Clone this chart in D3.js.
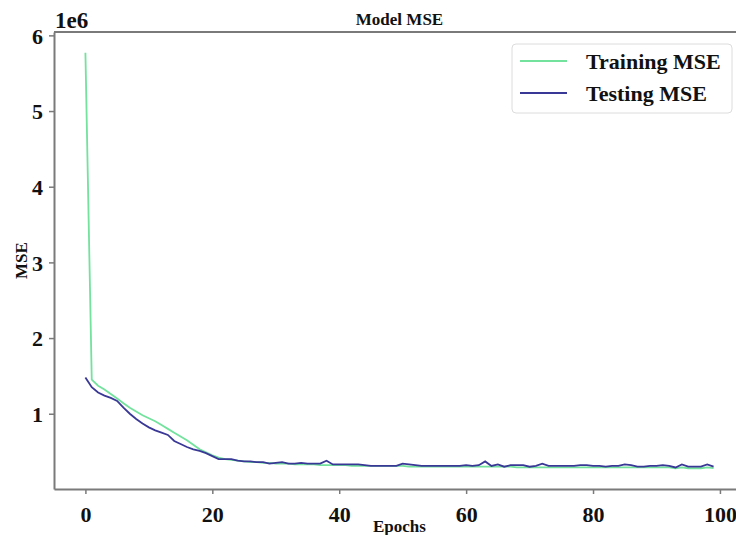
<!DOCTYPE html>
<html>
<head>
<meta charset="utf-8">
<script src="https://cdn.jsdelivr.net/npm/d3@7"></script>
<style>
  html, body { margin: 0; padding: 0; background: #fff; }
  svg { display: block; font-family: 'Liberation Serif', 'Times New Roman', serif; font-weight: bold; }
</style>
</head>
<body>
<svg id="chart" width="736" height="535"></svg>
<script>
// MSE per epoch, in units of 1e6
const epochs = d3.range(100)
const trainingMSE = [
  5.77, 1.45, 1.37, 1.32, 1.26, 1.20, 1.14, 1.08, 1.03, 0.98,
  0.94, 0.90, 0.85, 0.80, 0.75, 0.70, 0.65, 0.59, 0.53, 0.49,
  0.45, 0.42, 0.40, 0.39, 0.38, 0.37, 0.36, 0.36, 0.35, 0.35,
  0.34, 0.34, 0.34, 0.33, 0.33, 0.33, 0.33, 0.32, 0.32, 0.32,
  0.32, 0.32, 0.31, 0.31, 0.31, 0.31, 0.31, 0.31, 0.31, 0.31,
  0.31, 0.30, 0.30, 0.30, 0.30, 0.30, 0.30, 0.30, 0.30, 0.30,
  0.30, 0.30, 0.30, 0.30, 0.30, 0.30, 0.30, 0.30, 0.29, 0.29,
  0.29, 0.29, 0.29, 0.29, 0.29, 0.29, 0.29, 0.29, 0.29, 0.29,
  0.29, 0.29, 0.29, 0.29, 0.29, 0.29, 0.29, 0.29, 0.29, 0.29,
  0.29, 0.29, 0.29, 0.28, 0.29, 0.28, 0.28, 0.28, 0.29, 0.28
]
const testingMSE = [
  1.48, 1.35, 1.28, 1.24, 1.21, 1.17, 1.08, 1.00, 0.93, 0.87,
  0.82, 0.78, 0.75, 0.72, 0.64, 0.60, 0.56, 0.53, 0.51, 0.48,
  0.44, 0.40, 0.40, 0.40, 0.38, 0.37, 0.37, 0.36, 0.36, 0.34,
  0.35, 0.36, 0.34, 0.34, 0.35, 0.34, 0.34, 0.34, 0.38, 0.33,
  0.33, 0.33, 0.33, 0.33, 0.32, 0.31, 0.31, 0.31, 0.31, 0.31,
  0.34, 0.33, 0.32, 0.31, 0.31, 0.31, 0.31, 0.31, 0.31, 0.31,
  0.32, 0.31, 0.32, 0.37, 0.31, 0.33, 0.30, 0.32, 0.32, 0.32,
  0.30, 0.31, 0.34, 0.31, 0.31, 0.31, 0.31, 0.31, 0.32, 0.32,
  0.31, 0.31, 0.30, 0.31, 0.31, 0.33, 0.32, 0.30, 0.30, 0.31,
  0.31, 0.32, 0.31, 0.29, 0.33, 0.30, 0.30, 0.30, 0.33, 0.30
]
const xTicks = [0, 20, 40, 60, 80, 100]
const yTicks = [1, 2, 3, 4, 5, 6]
const seriesNames = ['Training MSE', 'Testing MSE']
const seriesColors = ['#72e29d', '#3a3896']

const svg = d3.select('#chart')
const plot = { left: 54, right: 745, top: 32, bottom: 489 }

// matplotlib style 5% margins
const xPad = 0.05 * (d3.max(epochs) - d3.min(epochs))
const allVals = trainingMSE.concat(testingMSE)
const yPad = 0.05 * (d3.max(allVals) - d3.min(allVals))

const x = d3.scaleLinear()
  .domain([d3.min(epochs) - xPad, d3.max(epochs) + xPad])
  .range([plot.left, plot.right])
const y = d3.scaleLinear()
  .domain([d3.min(allVals) - yPad, d3.max(allVals) + yPad])
  .range([plot.bottom, plot.top])

const line = d3.line()
  .x((d, i) => x(epochs[i]))
  .y(d => y(d))

const lines = svg.append('g')
lines.append('path')
  .datum(trainingMSE)
  .attr('d', line)
  .attr('fill', 'none')
  .attr('stroke', seriesColors[0])
  .attr('stroke-width', 1.8)
lines.append('path')
  .datum(testingMSE)
  .attr('d', line)
  .attr('fill', 'none')
  .attr('stroke', seriesColors[1])
  .attr('stroke-width', 1.8)

// axes
let xAxis = svg.append('g')
  .attr('transform', `translate(0,${plot.bottom})`)
  .call(d3.axisBottom(x).tickValues(xTicks).tickFormat(d3.format('d'))
    .tickSize(5).tickSizeOuter(0).tickPadding(12))
let yAxis = svg.append('g')
  .attr('transform', `translate(${plot.left},0)`)
  .call(d3.axisLeft(y).tickValues(yTicks).tickFormat(d3.format('d'))
    .tickSize(5).tickSizeOuter(0).tickPadding(6))

for (let ax of [xAxis, yAxis]) {
  ax.select('.domain').attr('stroke', '#7a7a7a').attr('stroke-width', 2)
  ax.selectAll('.tick line').attr('stroke', '#7a7a7a').attr('stroke-width', 1.5)
  ax.selectAll('.tick text')
    .attr('fill', '#111')
    .style('font-size', '22px')
    .style('font-family', "'Liberation Serif', serif")
    .style('font-weight', 'bold')
}
xAxis.selectAll('.tick text').attr('dy', '0.71em')
yAxis.selectAll('.tick text').attr('dy', '0.36em')

// top spine (right spine falls outside the picture)
svg.append('line')
  .attr('x1', plot.left).attr('x2', plot.right)
  .attr('y1', plot.top).attr('y2', plot.top)
  .attr('stroke', '#7a7a7a').attr('stroke-width', 2)

// offset label
svg.append('text')
  .attr('x', plot.left + 1).attr('y', 28)
  .style('font-size', '23px')
  .attr('fill', '#111')
  .text('1e6')

// title and axis labels
svg.append('text')
  .attr('x', (plot.left + plot.right) / 2).attr('y', 25)
  .attr('text-anchor', 'middle')
  .style('font-size', '17px')
  .attr('fill', '#111')
  .text('Model MSE')
svg.append('text')
  .attr('x', (plot.left + plot.right) / 2).attr('y', 532)
  .attr('text-anchor', 'middle')
  .style('font-size', '17px')
  .attr('fill', '#111')
  .text('Epochs')
svg.append('text')
  .attr('transform', `translate(27,${(plot.top + plot.bottom) / 2}) rotate(-90)`)
  .attr('text-anchor', 'middle')
  .style('font-size', '17px')
  .attr('fill', '#111')
  .text('MSE')

// legend
let legend = svg.append('g').attr('transform', 'translate(512,44)')
legend.append('rect')
  .attr('width', 220).attr('height', 69)
  .attr('rx', 4)
  .attr('fill', '#fff')
  .attr('stroke', '#dcdcdc')
  .attr('stroke-width', 1)
seriesNames.forEach((name, i) => {
  let row = legend.append('g').attr('transform', `translate(0,${17 + i * 32})`)
  row.append('line')
    .attr('x1', 8).attr('x2', 55)
    .attr('stroke', seriesColors[i])
    .attr('stroke-width', 2)
  row.append('text')
    .attr('x', 74).attr('dy', '0.35em')
    .style('font-size', '22px')
    .attr('fill', '#111')
    .text(name)
})
</script>
</body>
</html>
